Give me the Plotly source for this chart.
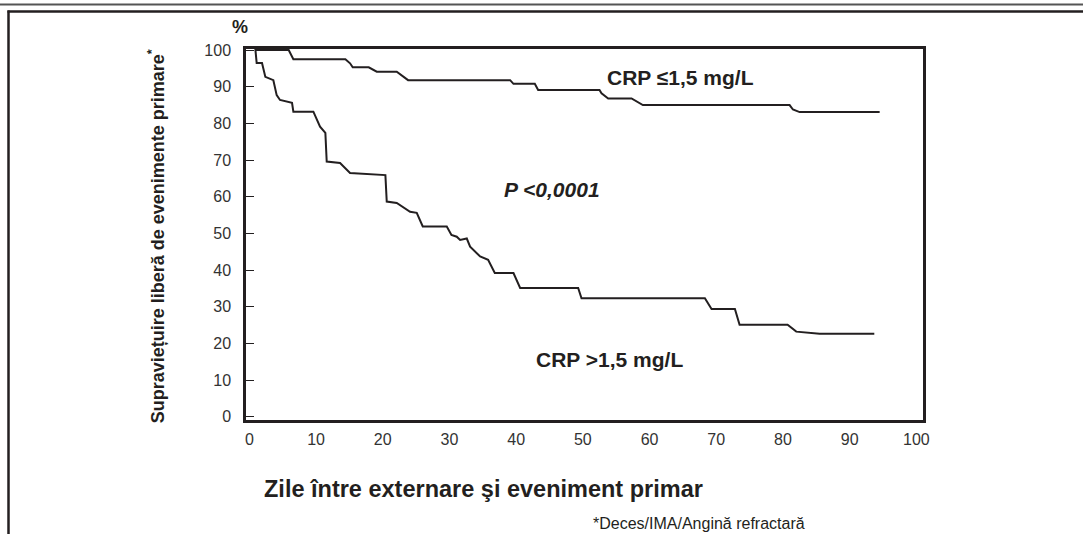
import plotly.graph_objects as go

# CRP > 1,5 mg/L (lower curve) - days, survival %
low_x = [0.9, 1.1, 1.9, 2.4, 3.6, 4.1, 4.6, 6.4, 6.6, 9.6, 10.6, 11.4, 11.6, 13.6, 15.1,
         20.4, 20.6, 22.1, 24.1, 25.1, 26.0, 29.6, 30.3, 31.1, 31.6, 32.6, 33.1, 34.6,
         35.8, 36.8, 39.6, 40.6, 49.3, 49.8, 68.3, 69.3, 72.8, 73.5, 80.7, 82.0, 85.5, 93.7]
low_y = [100.3, 96.5, 96.5, 92.7, 91.8, 87.7, 86.4, 85.6, 83.2, 83.2, 79.1, 77.4, 69.6, 69.2, 66.5,
         65.9, 58.7, 58.3, 55.9, 55.6, 51.9, 51.9, 49.6, 49.1, 48.2, 48.6, 46.4, 43.7,
         42.8, 39.2, 39.2, 35.1, 35.1, 32.3, 32.3, 29.4, 29.4, 25.1, 25.1, 23.2, 22.6, 22.6]

# CRP <= 1,5 mg/L (upper curve)
up_x = [0.9, 5.9, 6.6, 14.4, 15.1, 15.5, 17.9, 19.1, 22.1, 23.8, 39.1, 39.6, 42.8, 43.3,
        52.5, 52.8, 53.8, 57.3, 59.0, 81.0, 81.5, 82.5, 94.5]
up_y = [100.0, 100.0, 97.5, 97.5, 96.4, 95.3, 95.3, 94.1, 94.1, 91.8, 91.8, 90.8, 90.8, 89.1,
        89.1, 88.2, 86.8, 86.8, 85.0, 85.0, 83.8, 83.1, 83.1]

x_ticks = [0, 10, 20, 30, 40, 50, 60, 70, 80, 90, 100]
y_ticks = [0, 10, 20, 30, 40, 50, 60, 70, 80, 90, 100]

FONT = "Liberation Sans, Arial, sans-serif"
INK = "#231f20"

fig = go.Figure()
fig.add_trace(go.Scatter(x=up_x, y=up_y, mode="lines", line=dict(color=INK, width=2),
                         hoverinfo="skip", showlegend=False))
fig.add_trace(go.Scatter(x=low_x, y=low_y, mode="lines", line=dict(color=INK, width=2),
                         hoverinfo="skip", showlegend=False))

fig.update_layout(
    width=1083, height=534,
    margin=dict(l=246, r=160, t=49, b=114),
    paper_bgcolor="white", plot_bgcolor="white",
    font=dict(family=FONT, color="#333333", size=16),
    xaxis=dict(range=[-0.5, 101], tickvals=x_ticks, ticks="", showgrid=False, zeroline=False,
               showline=True, linecolor=INK, linewidth=2.5, mirror=True,
               tickfont=dict(size=16, color="#333333"), ticklabelstandoff=3),
    yaxis=dict(range=[-0.9, 100.3], tickvals=y_ticks, ticks="inside", ticklen=8, tickwidth=1,
               tickcolor=INK, showgrid=False, zeroline=False,
               showline=True, linecolor=INK, linewidth=2.5, mirror=True,
               tickfont=dict(size=16, color="#333333"), ticklabelstandoff=9),
)

ann = [
    dict(text="CRP ≤1,5 mg/L", x=64.7, y=92.6, xref="x", yref="y",
         font=dict(size=21, color=INK, family=FONT, weight="bold")),
    dict(text="<i>P <0,0001</i>", x=45.4, y=61.9, xref="x", yref="y",
         font=dict(size=21, color=INK, family=FONT, weight="bold")),
    dict(text="CRP >1,5 mg/L", x=54.0, y=15.5, xref="x", yref="y",
         font=dict(size=21, color=INK, family=FONT, weight="bold")),
    dict(text="%", x=-0.0089, y=1.059, xref="paper", yref="paper",
         font=dict(size=18, color=INK, family=FONT, weight="bold")),
    dict(text="Supraviețuire liberă de evenimente primare<sup>*</sup>", x=-0.131, y=0.496,
         xref="paper", yref="paper", textangle=-90,
         font=dict(size=18, color=INK, family=FONT, weight="bold")),
    dict(text="Zile între externare şi eveniment primar", x=0.3515, y=-0.186,
         xref="paper", yref="paper",
         font=dict(size=23.5, color=INK, family=FONT, weight="bold")),
    dict(text="*Deces/IMA/Angină refractară", x=0.669, y=-0.278,
         xref="paper", yref="paper",
         font=dict(size=16, color=INK, family=FONT)),
]
for a in ann:
    a.update(showarrow=False, xanchor="center", yanchor="middle")
    fig.add_annotation(**a)

# page frame lines (pixel -> paper conversion)
def px(xp):
    return (xp - 246) / 677.0
def py(yp):
    return (420 - yp) / 371.0

fig.add_shape(type="line", xref="paper", yref="paper", x0=px(0), x1=px(1083), y0=py(4.5), y1=py(4.5),
              line=dict(color="#555555", width=2))
fig.add_shape(type="line", xref="paper", yref="paper", x0=px(7.5), x1=px(1083), y0=py(11.5), y1=py(11.5),
              line=dict(color=INK, width=2.5))
fig.add_shape(type="line", xref="paper", yref="paper", x0=px(8.5), x1=px(8.5), y0=py(10.5), y1=py(534),
              line=dict(color=INK, width=2.5))

fig.write_html("out.html", config={"displayModeBar": False},
               post_script="document.body.style.margin='0';document.body.style.overflow='hidden';")
